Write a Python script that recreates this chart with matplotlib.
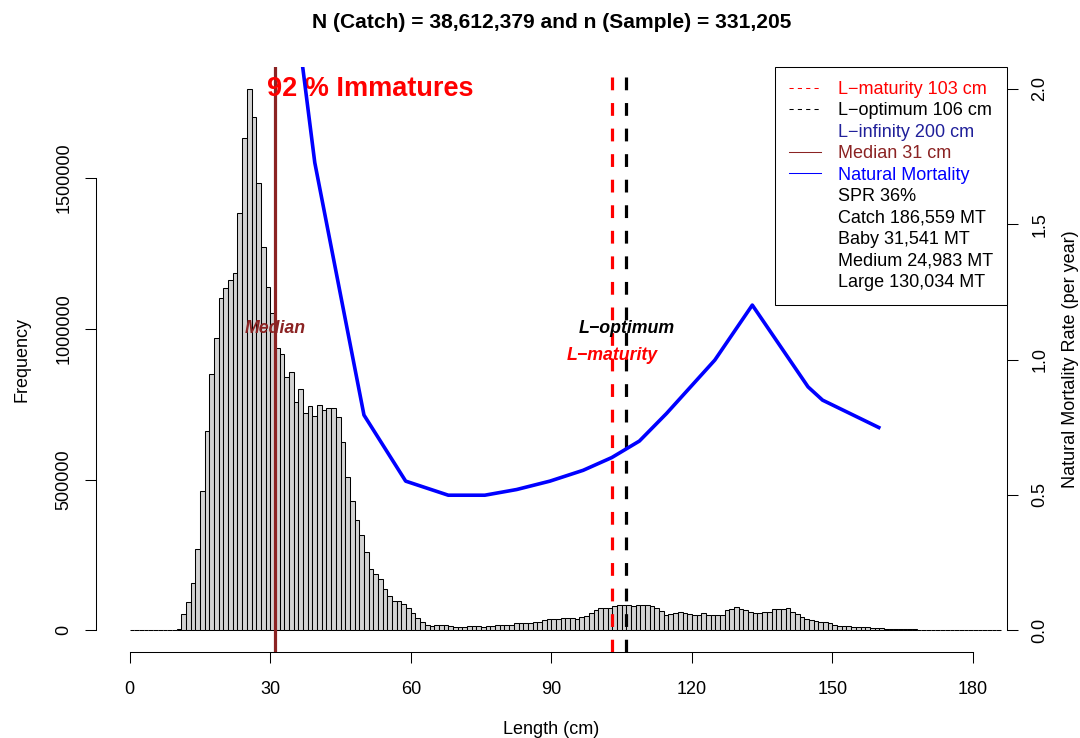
import matplotlib
matplotlib.use('Agg')
import matplotlib.pyplot as plt
from matplotlib.lines import Line2D

plt.rcParams['font.family'] = ['Liberation Sans', 'DejaVu Sans']
plt.rcParams['font.size'] = 13

# ---- catch length frequency, 1 cm bins (left edges 0..185) ----
bin_left = list(range(0, 186))
freq = [0] * 10 + [
    6000, 53000, 93000, 158000, 271000, 462000, 661000, 850000, 968000, 1103000,       # 10-19
    1136000, 1161000, 1186000, 1383000, 1632000, 1796000, 1701000, 1483000, 1271000, 1137000,  # 20-29
    1051000, 935000, 916000, 841000, 858000, 758000, 799000, 721000, 743000, 712000,   # 30-39
    746000, 732000, 738000, 738000, 706000, 625000, 509000, 428000, 367000, 316000,    # 40-49
    261000, 205000, 186000, 169000, 136000, 114000, 97000, 97000, 88000, 74000,        # 50-59
    59000, 41000, 28000, 17000, 14000, 18000, 18000, 17000, 13000, 10000,              # 60-69
    11000, 11000, 13000, 14000, 13000, 11000, 13000, 15000, 18000, 18000,              # 70-79
    18000, 18000, 24000, 23000, 23000, 23000, 27000, 29000, 34000, 38000,              # 80-89
    38000, 38000, 40000, 42000, 40000, 38000, 43000, 49000, 59000, 66000,              # 90-99
    73000, 75000, 75000, 82000, 83000, 83000, 84000, 81000, 84000, 83000,              # 100-109
    85000, 81000, 75000, 64000, 50000, 55000, 59000, 61000, 58000, 54000,              # 110-119
    52000, 52000, 56000, 52000, 51000, 51000, 51000, 66000, 72000, 79000,              # 120-129
    72000, 66000, 60000, 59000, 59000, 60000, 60000, 72000, 72000, 72000,              # 130-139
    74000, 60000, 53000, 44000, 39000, 35000, 30000, 27000, 29000, 24000,              # 140-149
    18000, 13000, 13000, 13000, 12000, 12000, 11000, 10000, 9000, 8000,                # 150-159
    8000, 6000, 6000, 5000, 5000, 3000, 3000, 3000, 2500, 2500,                        # 160-169
    2000, 1000, 2500, 1000, 500, 2000, 500, 500, 300, 300,                             # 170-179
    500, 2000, 300, 200, 0, 0]                                                         # 180-185

# ---- natural mortality by length ----
mort_len = [28, 39.5, 50, 58.9, 68, 75.8, 82.6, 89.7, 96.8, 102.9, 108.8,
            114.6, 124.9, 132.9, 144.8, 147.9, 159.9]
mort_rate = [3.30, 1.727, 0.795, 0.551, 0.499, 0.499, 0.520, 0.551, 0.591, 0.638,
             0.699, 0.801, 0.998, 1.201, 0.899, 0.850, 0.749]

median_len = 31
l_maturity = 103
l_optimum = 106

x_ticks = [0, 30, 60, 90, 120, 150, 180]
freq_ticks = [0, 500000, 1000000, 1500000]
mort_ticks = [0.0, 0.5, 1.0, 1.5, 2.0]

legend_labels = ['L\u2212maturity 103 cm', 'L\u2212optimum 106 cm', 'L\u2212infinity 200 cm',
                 'Median 31 cm', 'Natural Mortality', 'SPR 36%', 'Catch 186,559 MT',
                 'Baby 31,541 MT', 'Medium 24,983 MT', 'Large 130,034 MT']

brown = '#8B2323'
navy = '#20209A'

fig = plt.figure(figsize=(10.8, 7.38), dpi=100)
ax = fig.add_axes([0.0889, 0.1165, 0.8432, 0.7927])

ax.bar(bin_left, freq, width=1, align='edge', color='#D3D3D3',
       edgecolor='black', linewidth=0.75, zorder=2)

ymax = max(freq)
ax.set_xlim(-7.2, 187.2)
ax.set_ylim(-0.04 * ymax, 1.04 * ymax)

ax.axvline(median_len, color=brown, lw=2.3, zorder=3)
ax.axvline(l_maturity, color='red', lw=2.3, ls=(0, (4, 4)), zorder=3)
ax.axvline(l_optimum, color='black', lw=2.3, ls=(0, (4, 4)), zorder=3)

ax.text(51.3, ymax, '92 % Immatures', color='red', fontsize=19.5,
        fontweight='bold', ha='center', va='center', zorder=4)
ax.text(median_len, 1.0e6, 'Median', color=brown, fontsize=12.8,
        fontweight='bold', fontstyle='italic', ha='center', va='center', zorder=4)
ax.text(l_optimum, 1.0e6, 'L\u2212optimum', color='black', fontsize=12.8,
        fontweight='bold', fontstyle='italic', ha='center', va='center', zorder=4)
ax.text(l_maturity, 0.91e6, 'L\u2212maturity', color='red', fontsize=12.8,
        fontweight='bold', fontstyle='italic', ha='center', va='center', zorder=4)

ax.set_xticks(x_ticks)
ax.set_yticks(freq_ticks)
ax.ticklabel_format(axis='y', style='plain')
ax.tick_params(axis='both', length=7.9, width=0.75, labelsize=13)
ax.tick_params(axis='x', pad=13)
ax.tick_params(axis='y', pad=9, labelrotation=90)
for lab in ax.get_yticklabels():
    lab.set_va('center')

for s in ['top', 'right']:
    ax.spines[s].set_visible(False)
ax.spines['left'].set_bounds(0, 1500000)
ax.spines['bottom'].set_bounds(0, 180)
for s in ['left', 'bottom']:
    ax.spines[s].set_linewidth(0.75)

ax.set_xlabel('Length (cm)', va='center')
ax.xaxis.set_label_coords(0.5, -0.1316)
ax.set_ylabel('Frequency', va='center')
ax.yaxis.set_label_coords(-0.0813, 0.5)
ax.set_title('N (Catch) = 38,612,379 and n (Sample) = 331,205',
             fontsize=15.1, fontweight='bold', pad=28)

# second axis for natural mortality
ax2 = ax.twinx()
ax2.plot(mort_len, mort_rate, color='blue', lw=2.6)
ax2.set_ylim(-0.08, 2.08)
ax2.set_yticks(mort_ticks)
ax2.tick_params(axis='y', length=7.9, width=0.75, labelsize=13, pad=10, labelrotation=90)
for lab in ax2.get_yticklabels():
    lab.set_va('center')
for s in ['top', 'left', 'bottom']:
    ax2.spines[s].set_visible(False)
ax2.spines['right'].set_bounds(0, 2.0)
ax2.spines['right'].set_linewidth(0.75)
ax2.set_ylabel('Natural Mortality Rate (per year)', va='center')
ax2.yaxis.set_label_coords(1.0706, 0.5)

handles = [Line2D([], [], color='red', lw=0.75, ls=(0, (4, 4))),
           Line2D([], [], color='black', lw=0.75, ls=(0, (4, 4))),
           Line2D([], [], color='none'),
           Line2D([], [], color=brown, lw=0.75),
           Line2D([], [], color='blue', lw=0.75)] + [Line2D([], [], color='none') for _ in range(5)]
label_colors = ['red', 'black', navy, brown, 'blue'] + ['black'] * 5

leg = ax2.legend(handles, legend_labels, loc='upper right', borderaxespad=0,
                 fancybox=False, edgecolor='black', framealpha=1, fontsize=13,
                 handlelength=1.78, handletextpad=0.94, labelspacing=0.245,
                 borderpad=0.77, labelcolor=label_colors)
leg.get_frame().set_linewidth(0.75)

fig.savefig('out.png', dpi=100)
